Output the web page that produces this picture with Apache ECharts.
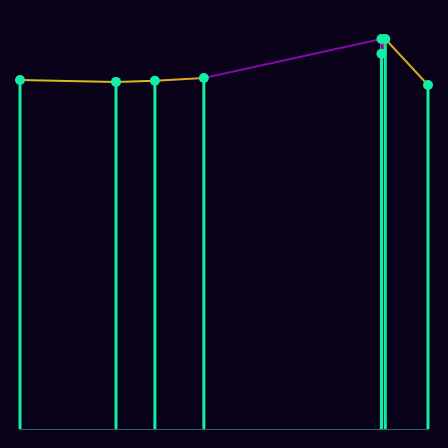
<!DOCTYPE html>
<html>
<head>
<meta charset="utf-8">
<script src="https://cdn.jsdelivr.net/npm/echarts@6/dist/echarts.min.js"></script>
<style>
  html, body { margin: 0; padding: 0; background: #0a0218; }
  #chart { width: 448px; height: 448px; }
</style>
</head>
<body>
<div id="chart"></div>
<script>
// day offsets and values
var days = [0, 20, 28.1, 38.3, 75.3, 75.3, 76.1, 85];
var values = [89.5, 89.0, 89.3, 90.0, 100, 96.2, 100, 88.2];

var pairs = days.map(function (d, i) { return [d, values[i]]; });

var chartDom = document.getElementById('chart');
var myChart = echarts.init(chartDom);
var option;

option = {
    backgroundColor: '#0a0218',
    animation: false,
    grid: { left: 20, right: 20, top: 39, bottom: 19 },
    xAxis: {
        type: 'value',
        min: 'dataMin',
        max: 'dataMax',
        axisLine: { show: true, lineStyle: { color: '#1f6f60', width: 1 } },
        axisTick: { show: false },
        axisLabel: { show: false },
        splitLine: { show: false }
    },
    yAxis: {
        type: 'value',
        min: 0,
        max: 100,
        axisLine: { show: false },
        axisTick: { show: false },
        axisLabel: { show: false },
        splitLine: { show: false }
    },
    series: [
        {
            type: 'bar',
            data: pairs,
            barWidth: 3,
            itemStyle: { color: '#12eea6' }
        },
        {
            type: 'line',
            data: pairs,
            symbol: 'circle',
            symbolSize: 10,
            itemStyle: { color: '#12eea6' },
            lineStyle: {
                width: 2,
                color: new echarts.graphic.LinearGradient(0, 0, 1, 0, [
                    { offset: 0, color: '#d4bc1e' },
                    { offset: 0.32, color: '#d4bc1e' },
                    { offset: 0.44, color: '#e09a28' },
                    { offset: 0.465, color: '#7e0aa6' },
                    { offset: 0.884, color: '#7e0aa6' },
                    { offset: 0.89, color: '#ccae1e' },
                    { offset: 1, color: '#ccae1e' }
                ])
            }
        }
    ]
};

if (option && typeof option === 'object') {
    myChart.setOption(option);
}
</script>
</body>
</html>
